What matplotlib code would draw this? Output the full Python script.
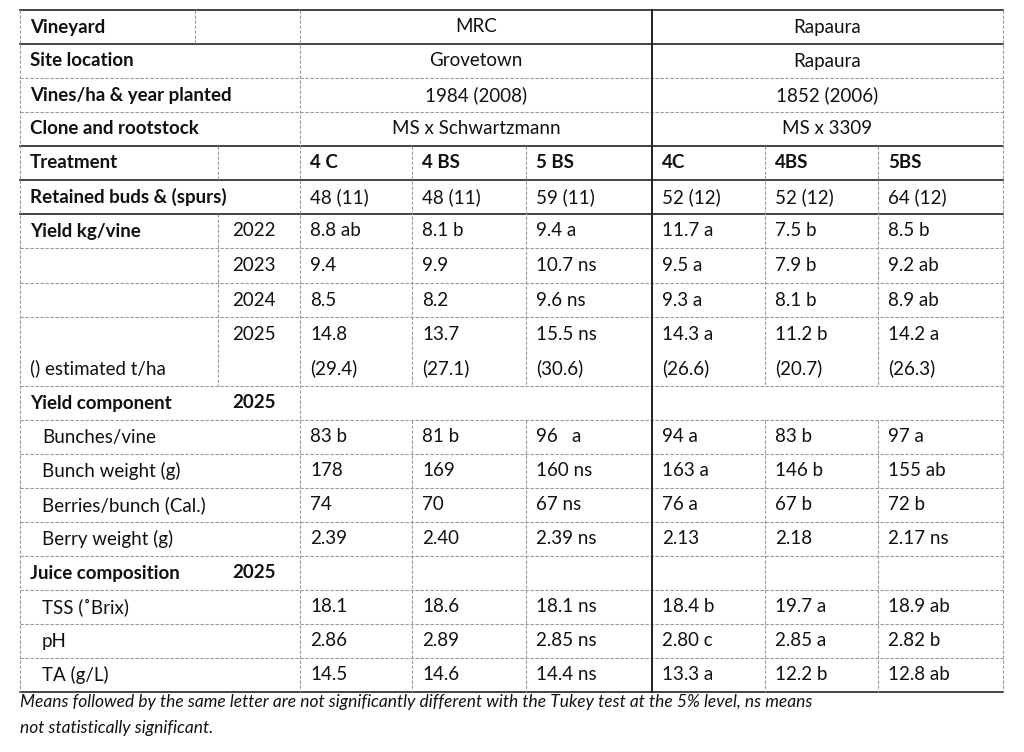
import matplotlib
matplotlib.use("Agg")
import matplotlib.pyplot as plt

FONT = "Lato"
FS = 13.5

treatments = ["4 C", "4 BS", "5 BS", "4C", "4BS", "5BS"]
retained = ["48 (11)", "48 (11)", "59 (11)", "52 (12)", "52 (12)", "64 (12)"]
yield_years = ["2022", "2023", "2024", "2025"]
yield_2022 = ["8.8 ab", "8.1 b", "9.4 a", "11.7 a", "7.5 b", "8.5 b"]
yield_2023 = ["9.4", "9.9", "10.7 ns", "9.5 a", "7.9 b", "9.2 ab"]
yield_2024 = ["8.5", "8.2", "9.6 ns", "9.3 a", "8.1 b", "8.9 ab"]
yield_2025 = ["14.8", "13.7", "15.5 ns", "14.3 a", "11.2 b", "14.2 a"]
tha_2025 = ["(29.4)", "(27.1)", "(30.6)", "(26.6)", "(20.7)", "(26.3)"]
comp_labels = ["Bunches/vine", "Bunch weight (g)", "Berries/bunch (Cal.)", "Berry weight (g)"]
comp_values = [
    ["83 b", "81 b", "96   a", "94 a", "83 b", "97 a"],
    ["178", "169", "160 ns", "163 a", "146 b", "155 ab"],
    ["74", "70", "67 ns", "76 a", "67 b", "72 b"],
    ["2.39", "2.40", "2.39 ns", "2.13", "2.18", "2.17 ns"],
]
juice_labels = ["TSS (\u02daBrix)", "pH", "TA (g/L)"]
juice_values = [
    ["18.1", "18.6", "18.1 ns", "18.4 b", "19.7 a", "18.9 ab"],
    ["2.86", "2.89", "2.85 ns", "2.80 c", "2.85 a", "2.82 b"],
    ["14.5", "14.6", "14.4 ns", "13.3 a", "12.2 b", "12.8 ab"],
]
site_header = [["Vineyard", "MRC", "Rapaura"],
               ["Site location", "Grovetown", "Rapaura"],
               ["Vines/ha & year planted", "1984 (2008)", "1852 (2006)"],
               ["Clone and rootstock", "MS x Schwartzmann", "MS x 3309"]]
footnote = ["Means followed by the same letter are not significantly different with the Tukey test at the 5% level, ns means",
            "not statistically significant."]

fig = plt.figure(figsize=(10.24, 7.52), dpi=100)
ax = fig.add_axes([0, 0, 1, 1])
ax.set_xlim(0, 1024); ax.set_ylim(752, 0); ax.axis("off")

ys = [10, 44, 78, 112, 146, 180, 214, 248, 283, 317, 386, 420, 454, 488, 522, 556, 590, 624, 658, 692]
L, R = 20, 1003
cols = [300, 412, 526, 652, 765, 878]
dash = dict(color="#999999", lw=0.8, ls=(0, (3, 1.5)))
solid = dict(color="#222222", lw=1.2)

for i, y in enumerate(ys):
    style = solid if i in (0, 1, 4, 5, 6, 19) else dash
    ax.plot([L, R], [y, y], **style)
ax.plot([L, L], [ys[0], ys[-1]], **dash)
ax.plot([R, R], [ys[0], ys[-1]], **dash)
ax.plot([300, 300], [ys[0], ys[-1]], **dash)
ax.plot([652, 652], [ys[0], ys[-1]], color="#222222", lw=1.4)
ax.plot([195, 195], [ys[0], ys[1]], **dash)
for a, b in [(4, 5), (6, 10)]:
    ax.plot([218, 218], [ys[a], ys[b]], **dash)
for x in [412, 526, 765, 878]:
    ax.plot([x, x], [ys[4], ys[10]], **dash)
    ax.plot([x, x], [ys[11], ys[-1]], **dash)

def t(x, y, s, bold=False, ha="left", italic=False, size=FS):
    ax.text(x, y, s, ha=ha, va="center", fontsize=size, family=FONT,
            fontweight="bold" if bold else "normal",
            style="italic" if italic else "normal", color="#111111")

def mid(i):
    return (ys[i] + ys[i + 1]) / 2

for i, (lab, m, r) in enumerate(site_header):
    t(30, mid(i), lab, bold=True)
    t(476, mid(i), m, ha="center")
    t(827, mid(i), r, ha="center")

def rowvals(y, vals, bold=False):
    for x, v in zip(cols, vals):
        t(x + 10, y, v, bold=bold)

t(30, mid(4), "Treatment", bold=True); rowvals(mid(4), treatments, bold=True)
t(30, mid(5), "Retained buds & (spurs)", bold=True); rowvals(mid(5), retained)
t(30, mid(6), "Yield kg/vine", bold=True)
for k, (yr, vals) in enumerate(zip(yield_years, [yield_2022, yield_2023, yield_2024, yield_2025])):
    y = mid(6 + k) if k < 3 else 334
    t(232, y, yr); rowvals(y, vals)
t(30, 368, "() estimated t/ha"); rowvals(368, tha_2025)
t(30, mid(10), "Yield component", bold=True); t(232, mid(10), "2025", bold=True)
for k, (lab, vals) in enumerate(zip(comp_labels, comp_values)):
    t(42, mid(11 + k), lab); rowvals(mid(11 + k), vals)
t(30, mid(15), "Juice composition", bold=True); t(232, mid(15), "2025", bold=True)
for k, (lab, vals) in enumerate(zip(juice_labels, juice_values)):
    t(42, mid(16 + k), lab); rowvals(mid(16 + k), vals)

t(20, 702, footnote[0], italic=True, size=12.5)
t(20, 728, footnote[1], italic=True, size=12.5)

fig.savefig("out.png", dpi=100, facecolor="white")
